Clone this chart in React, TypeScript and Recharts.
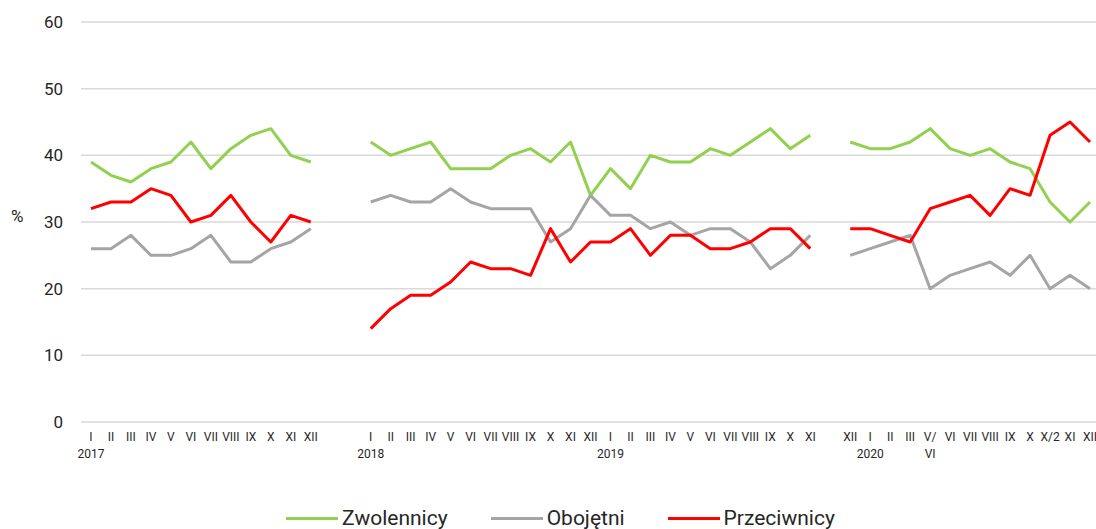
import { LineChart, Line, XAxis, YAxis, CartesianGrid, Legend } from "recharts";

// month labels on the axis; "" marks the blank slots between survey periods
const months = [
  "I", "II", "III", "IV", "V", "VI", "VII", "VIII", "IX", "X", "XI", "XII",
  "", "",
  "I", "II", "III", "IV", "V", "VI", "VII", "VIII", "IX", "X", "XI", "XII",
  "I", "II", "III", "IV", "V", "VI", "VII", "VIII", "IX", "X", "XI",
  "",
  "XII", "I", "II", "III", "V/", "VI", "VII", "VIII", "IX", "X", "X/2", "XI", "XII",
];

// second line under some month labels
const subLabels: Record<number, string> = {
  0: "2017",
  14: "2018",
  26: "2019",
  39: "2020",
  42: "VI",
};

const zwolennicy = [
  39, 37, 36, 38, 39, 42, 38, 41, 43, 44, 40, 39,
  null, null,
  42, 40, 41, 42, 38, 38, 38, 40, 41, 39, 42, 34,
  38, 35, 40, 39, 39, 41, 40, 42, 44, 41, 43,
  null,
  42, 41, 41, 42, 44, 41, 40, 41, 39, 38, 33, 30, 33,
];

const obojetni = [
  26, 26, 28, 25, 25, 26, 28, 24, 24, 26, 27, 29,
  null, null,
  33, 34, 33, 33, 35, 33, 32, 32, 32, 27, 29, 34,
  31, 31, 29, 30, 28, 29, 29, 27, 23, 25, 28,
  null,
  25, 26, 27, 28, 20, 22, 23, 24, 22, 25, 20, 22, 20,
];

const przeciwnicy = [
  32, 33, 33, 35, 34, 30, 31, 34, 30, 27, 31, 30,
  null, null,
  14, 17, 19, 19, 21, 24, 23, 23, 22, 29, 24, 27,
  27, 29, 25, 28, 28, 26, 26, 27, 29, 29, 26,
  null,
  29, 29, 28, 27, 32, 33, 34, 31, 35, 34, 43, 45, 42,
];

const yTicks = [0, 10, 20, 30, 40, 50, 60];

const data = months.map((m, i) => ({
  label: m,
  zwolennicy: zwolennicy[i],
  obojetni: obojetni[i],
  przeciwnicy: przeciwnicy[i],
}));

const series = [
  { key: "zwolennicy", name: "Zwolennicy", color: "#92D050" },
  { key: "obojetni", name: "Obojętni", color: "#A5A5A5" },
  { key: "przeciwnicy", name: "Przeciwnicy", color: "#FF0000" },
];

const FONT = "Roboto, 'Noto Sans', sans-serif";

function MonthTick(props: any) {
  const { x, y, payload } = props;
  const sub = subLabels[payload.index];
  return (
    <g>
      <text x={x} y={y + 19} textAnchor="middle" fontSize={12} fill="#262626" fontFamily={FONT}>
        {payload.value}
      </text>
      {sub && (
        <text x={x} y={y + 36} textAnchor="middle" fontSize={12} fill="#262626" fontFamily={FONT}>
          {sub}
        </text>
      )}
    </g>
  );
}

function LegendContent() {
  return (
    <div
      style={{
        height: 30,
        boxSizing: "border-box",
        paddingTop: 8,
        paddingLeft: 21,
        display: "flex",
        justifyContent: "center",
        alignItems: "center",
        fontFamily: FONT,
        fontSize: 21,
        color: "#262626",
      }}
    >
      {series.map((s, i) => (
        <div key={s.key} style={{ display: "flex", alignItems: "center", marginRight: i < series.length - 1 ? 43 : 0 }}>
          <div style={{ width: 52, height: 3, background: s.color, marginRight: 4 }} />
          <span>{s.name}</span>
        </div>
      ))}
    </div>
  );
}

export default function App() {
  return (
    <div style={{ position: "absolute", left: 0, top: 0, width: 1096, height: 529, overflow: "hidden", background: "#fff" }}>
      <LineChart width={1100} height={529} data={data} margin={{ top: 22, right: 0, bottom: 0, left: 0 }}>
        <CartesianGrid vertical={false} stroke="#D9D9D9" strokeWidth={1.5} />
        <XAxis
          dataKey="label"
          interval={0}
          axisLine={false}
          tickLine={false}
          tickSize={0}
          tickMargin={0}
          height={77}
          padding={{ left: 10, right: 10 }}
          tick={<MonthTick />}
        />
        <YAxis
          domain={[0, 60]}
          ticks={yTicks}
          width={81}
          axisLine={false}
          tickLine={false}
          tickMargin={12}
          tick={{ fontSize: 17, fill: "#262626", fontFamily: FONT }}
          label={{ value: "%", position: "insideLeft", offset: 11, dy: -6, fontSize: 17, fill: "#262626", fontFamily: FONT }}
        />
        <Legend verticalAlign="bottom" content={<LegendContent />} />
        {series.map((s) => (
          <Line
            key={s.key}
            type="linear"
            dataKey={s.key}
            name={s.name}
            stroke={s.color}
            strokeWidth={3}
            dot={false}
            activeDot={false}
            isAnimationActive={false}
            strokeLinejoin="round"
          />
        ))}
      </LineChart>
    </div>
  );
}
